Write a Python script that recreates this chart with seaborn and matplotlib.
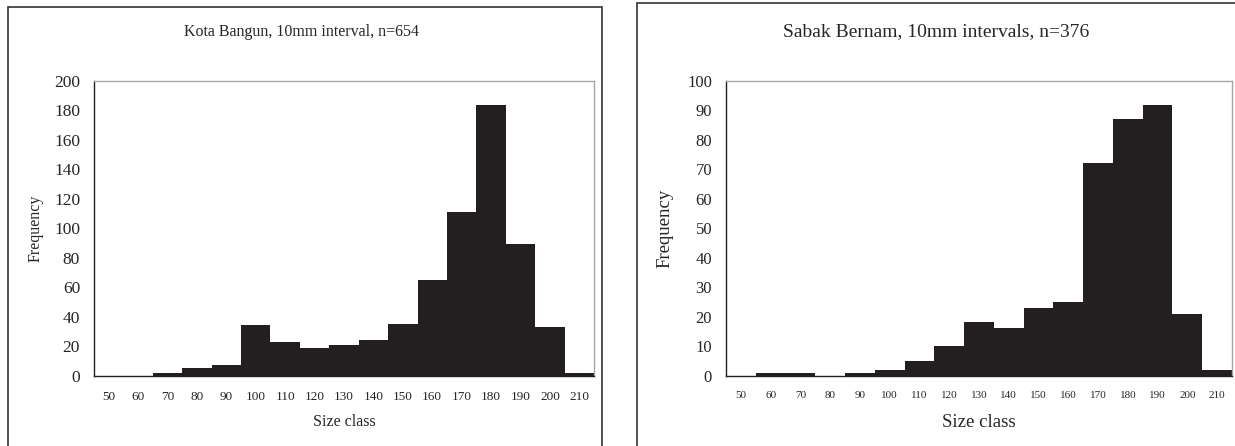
import numpy as np
import pandas as pd
import matplotlib
matplotlib.use("Agg")
import matplotlib.pyplot as plt
from matplotlib.patches import Rectangle
import seaborn as sns

sns.set_style("white")
plt.rcParams['font.family'] = ['Liberation Serif', 'DejaVu Serif']

size_classes = ["50", "60", "70", "80", "90", "100", "110", "120", "130", "140",
                "150", "160", "170", "180", "190", "200", "210"]
kota_bangun = [0, 0, 2, 5, 7, 34, 23, 19, 21, 24, 35, 65, 111, 184, 89, 33, 2]
sabak_bernam = [0, 1, 1, 0, 1, 2, 5, 10, 18, 16, 23, 25, 72, 87, 92, 21, 2]

title_left = "Kota Bangun, 10mm interval, n=654"
title_right = "Sabak Bernam, 10mm intervals, n=376"

W, H = 1235, 446
fig = plt.figure(figsize=(W / 100, H / 100), dpi=100)
fig.patch.set_facecolor("white")

bar_color = "#231f20"


def make_axes(x0, x1, y0, y1):
    return fig.add_axes([x0 / W, 1 - y1 / H, (x1 - x0) / W, (y1 - y0) / H])


def style(ax, vals, ymax, ystep, xfs, yfs, lfs, ylab_x):
    df = pd.DataFrame({"size": size_classes, "freq": vals})
    sns.barplot(data=df, x="size", y="freq", color=bar_color, width=1.0,
                saturation=1, edgecolor="none", linewidth=0, ax=ax,
                order=size_classes)
    ax.set_xlim(-0.5, len(size_classes) - 0.5)
    ax.set_ylim(0, ymax)
    ax.set_yticks(np.arange(0, ymax + 1, ystep))
    ax.set_xticks(range(len(size_classes)))
    ax.set_xticklabels(size_classes, fontsize=xfs)
    ax.set_xticks(np.arange(-0.5, len(size_classes)), minor=True)
    ax.tick_params(axis='x', which='major', length=0, pad=11)
    ax.tick_params(axis='x', which='minor', length=4, width=1, direction='out',
                   color='#222222')
    ax.tick_params(axis='y', which='major', length=5, width=1, direction='out',
                   color='#222222', labelsize=yfs, pad=5)
    for lab in ax.get_yticklabels():
        lab.set_fontsize(yfs)
    for s in ['left', 'bottom']:
        ax.spines[s].set_color('#222222')
        ax.spines[s].set_linewidth(1.0)
    for s in ['top', 'right']:
        ax.spines[s].set_color('#a6a6a6')
        ax.spines[s].set_linewidth(1.0)
    ax.set_xlabel("Size class", fontsize=lfs, va='center')
    ax.set_ylabel("Frequency", fontsize=lfs, va='center')
    ax.xaxis.set_label_coords(0.5, -0.159)
    ax.yaxis.set_label_coords(ylab_x, 0.5)
    ax.grid(False)


ax1 = make_axes(94, 594, 81, 375.5)
style(ax1, kota_bangun, 200, 20, 9.5, 12.5, 11.5, -0.116)
ax2 = make_axes(726, 1232, 81, 375.5)
style(ax2, sabak_bernam, 100, 10, 8, 12, 13.5, -0.12)

fig.text(302 / W, 1 - 32 / H, title_left, ha='center', va='center', fontsize=11.5)
fig.text(936 / W, 1 - 32 / H, title_right, ha='center', va='center', fontsize=14)

# panel borders
fig.add_artist(Rectangle((8 / W, -0.05), (602 - 8) / W, (446 - 7) / H + 0.05,
                         transform=fig.transFigure, fill=False,
                         edgecolor='#333333', linewidth=1.2))
fig.add_artist(Rectangle((637 / W, -0.05), 0.5, (446 - 3) / H + 0.05,
                         transform=fig.transFigure, fill=False,
                         edgecolor='#333333', linewidth=1.2))

fig.savefig("out.png", dpi=100, facecolor="white")
